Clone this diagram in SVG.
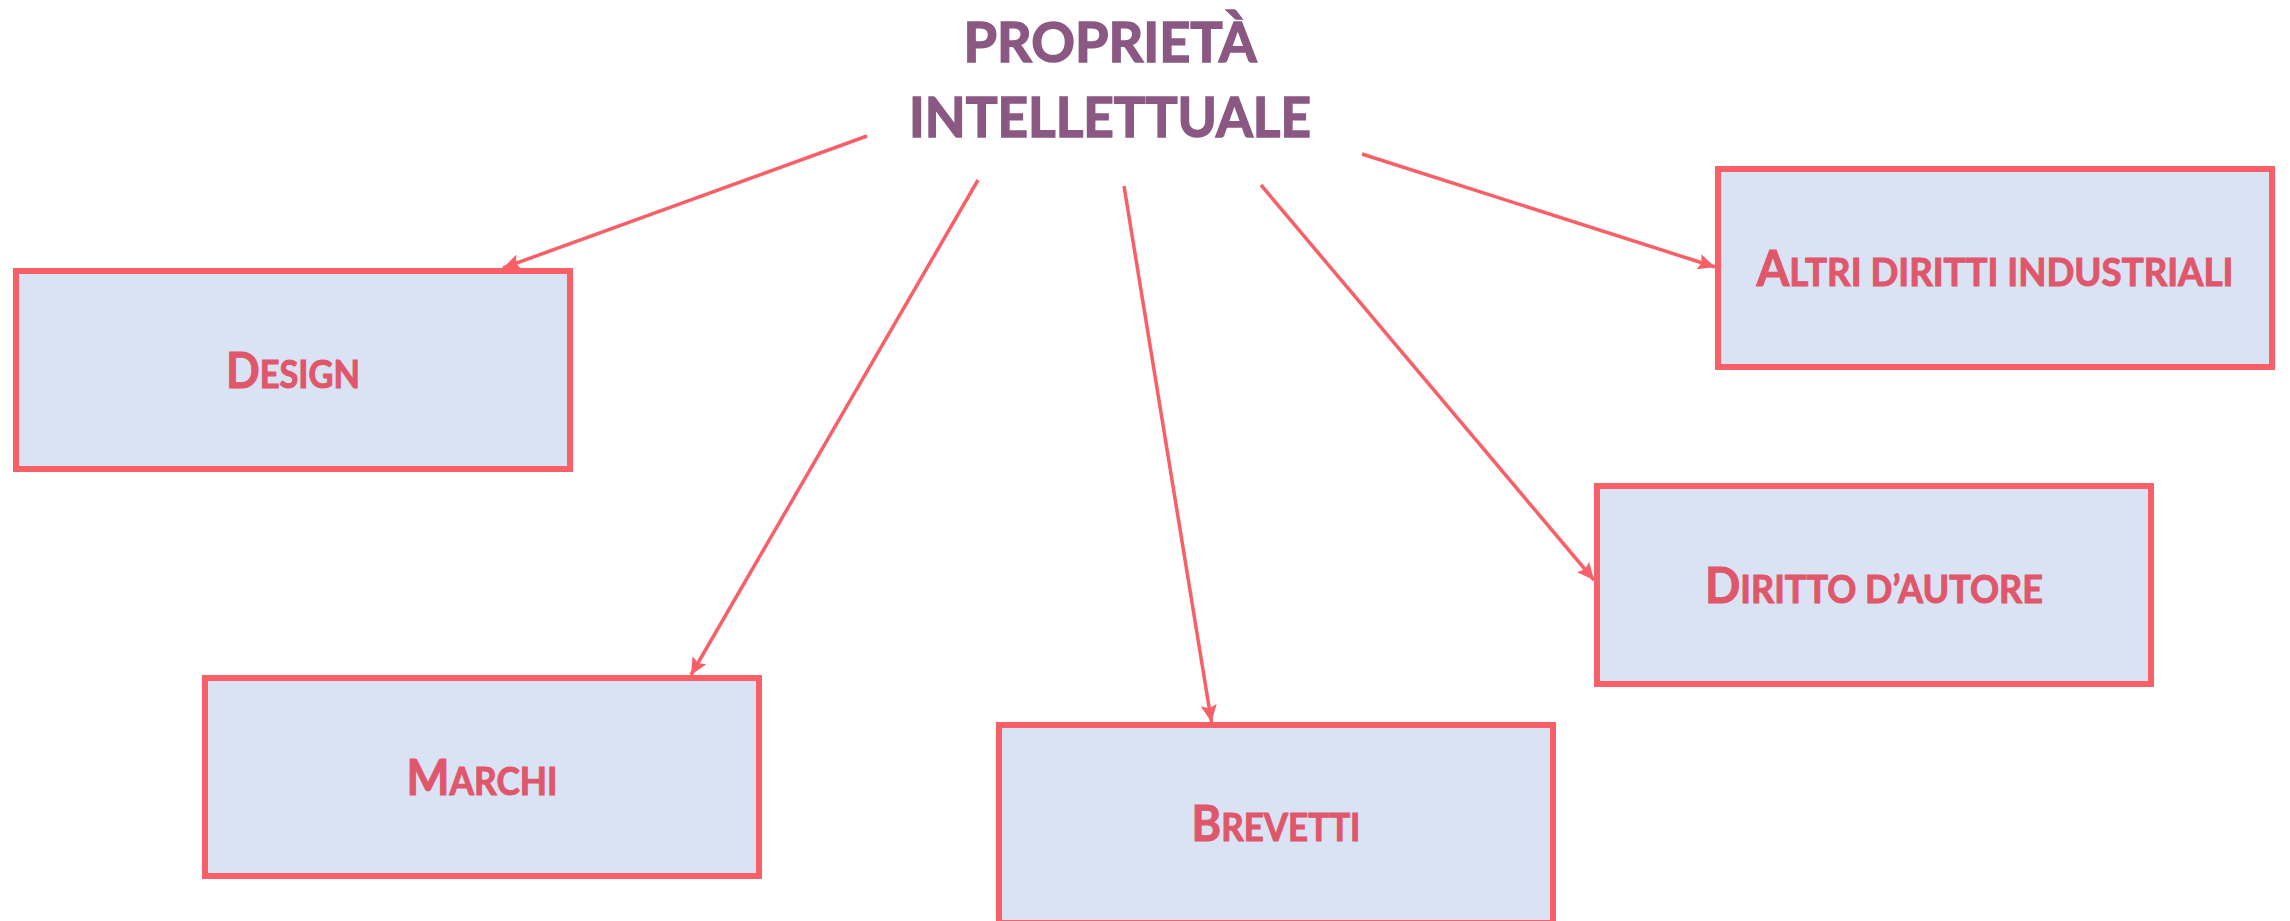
<svg xmlns="http://www.w3.org/2000/svg" width="2290" height="921" viewBox="0 0 2290 921">
<style>
.box{fill:#DAE3F3;stroke:#F95F67;stroke-width:6}
.lbl{font-family:Lato,"Liberation Sans",sans-serif;font-weight:bold;fill:#E0566A;stroke:#E0566A;stroke-width:1;text-anchor:middle}
.big{font-size:49px}
.sm{font-size:38px}
.title{font-family:Lato,"Liberation Sans",sans-serif;font-weight:bold;fill:#8B5883;stroke:#8B5883;stroke-width:1.5;font-size:56px;text-anchor:middle}
.conn{stroke:#F95F67;stroke-width:3.5;fill:none;marker-end:url(#ah)}
</style>
<defs>
<marker id="ah" markerUnits="userSpaceOnUse" markerWidth="18" markerHeight="16" refX="17" refY="8" orient="auto">
<path d="M0,0 L17,8 L0,16 L3,8 z" fill="#F95F67"/>
</marker>
</defs>
<rect width="2290" height="921" fill="#FFFFFF"/>
<g id="title">
<text class="title" x="1110" y="62" textLength="293" lengthAdjust="spacingAndGlyphs">PROPRIETÀ</text>
<text class="title" x="1110" y="137" textLength="402" lengthAdjust="spacingAndGlyphs">INTELLETTUALE</text>
</g>
<g id="connectors">
<line class="conn" x1="867" y1="136" x2="503" y2="268"/>
<line class="conn" x1="978" y1="180" x2="691" y2="675"/>
<line class="conn" x1="1124" y1="186" x2="1211.5" y2="722"/>
<line class="conn" x1="1261" y1="185" x2="1594" y2="580"/>
<line class="conn" x1="1362" y1="154" x2="1715" y2="267"/>
</g>
<g id="design">
<rect class="box" x="16" y="271" width="554" height="198"/>
<text class="lbl" x="293" y="388" textLength="134" lengthAdjust="spacingAndGlyphs"><tspan class="big">D</tspan><tspan class="sm">ESIGN</tspan></text>
</g>
<g id="altri">
<rect class="box" x="1718" y="169" width="554" height="198"/>
<text class="lbl" x="1995" y="286" textLength="477" lengthAdjust="spacingAndGlyphs"><tspan class="big">A</tspan><tspan class="sm">LTRI DIRITTI INDUSTRIALI</tspan></text>
</g>
<g id="diritto">
<rect class="box" x="1597" y="486" width="554" height="198"/>
<text class="lbl" x="1874" y="603" textLength="338" lengthAdjust="spacingAndGlyphs"><tspan class="big">D</tspan><tspan class="sm">IRITTO D’AUTORE</tspan></text>
</g>
<g id="marchi">
<rect class="box" x="205" y="678" width="554" height="198"/>
<text class="lbl" x="482" y="795" textLength="151" lengthAdjust="spacingAndGlyphs"><tspan class="big">M</tspan><tspan class="sm">ARCHI</tspan></text>
</g>
<g id="brevetti">
<rect class="box" x="999" y="725" width="554" height="198"/>
<text class="lbl" x="1276" y="841" textLength="169" lengthAdjust="spacingAndGlyphs"><tspan class="big">B</tspan><tspan class="sm">REVETTI</tspan></text>
</g>
</svg>
